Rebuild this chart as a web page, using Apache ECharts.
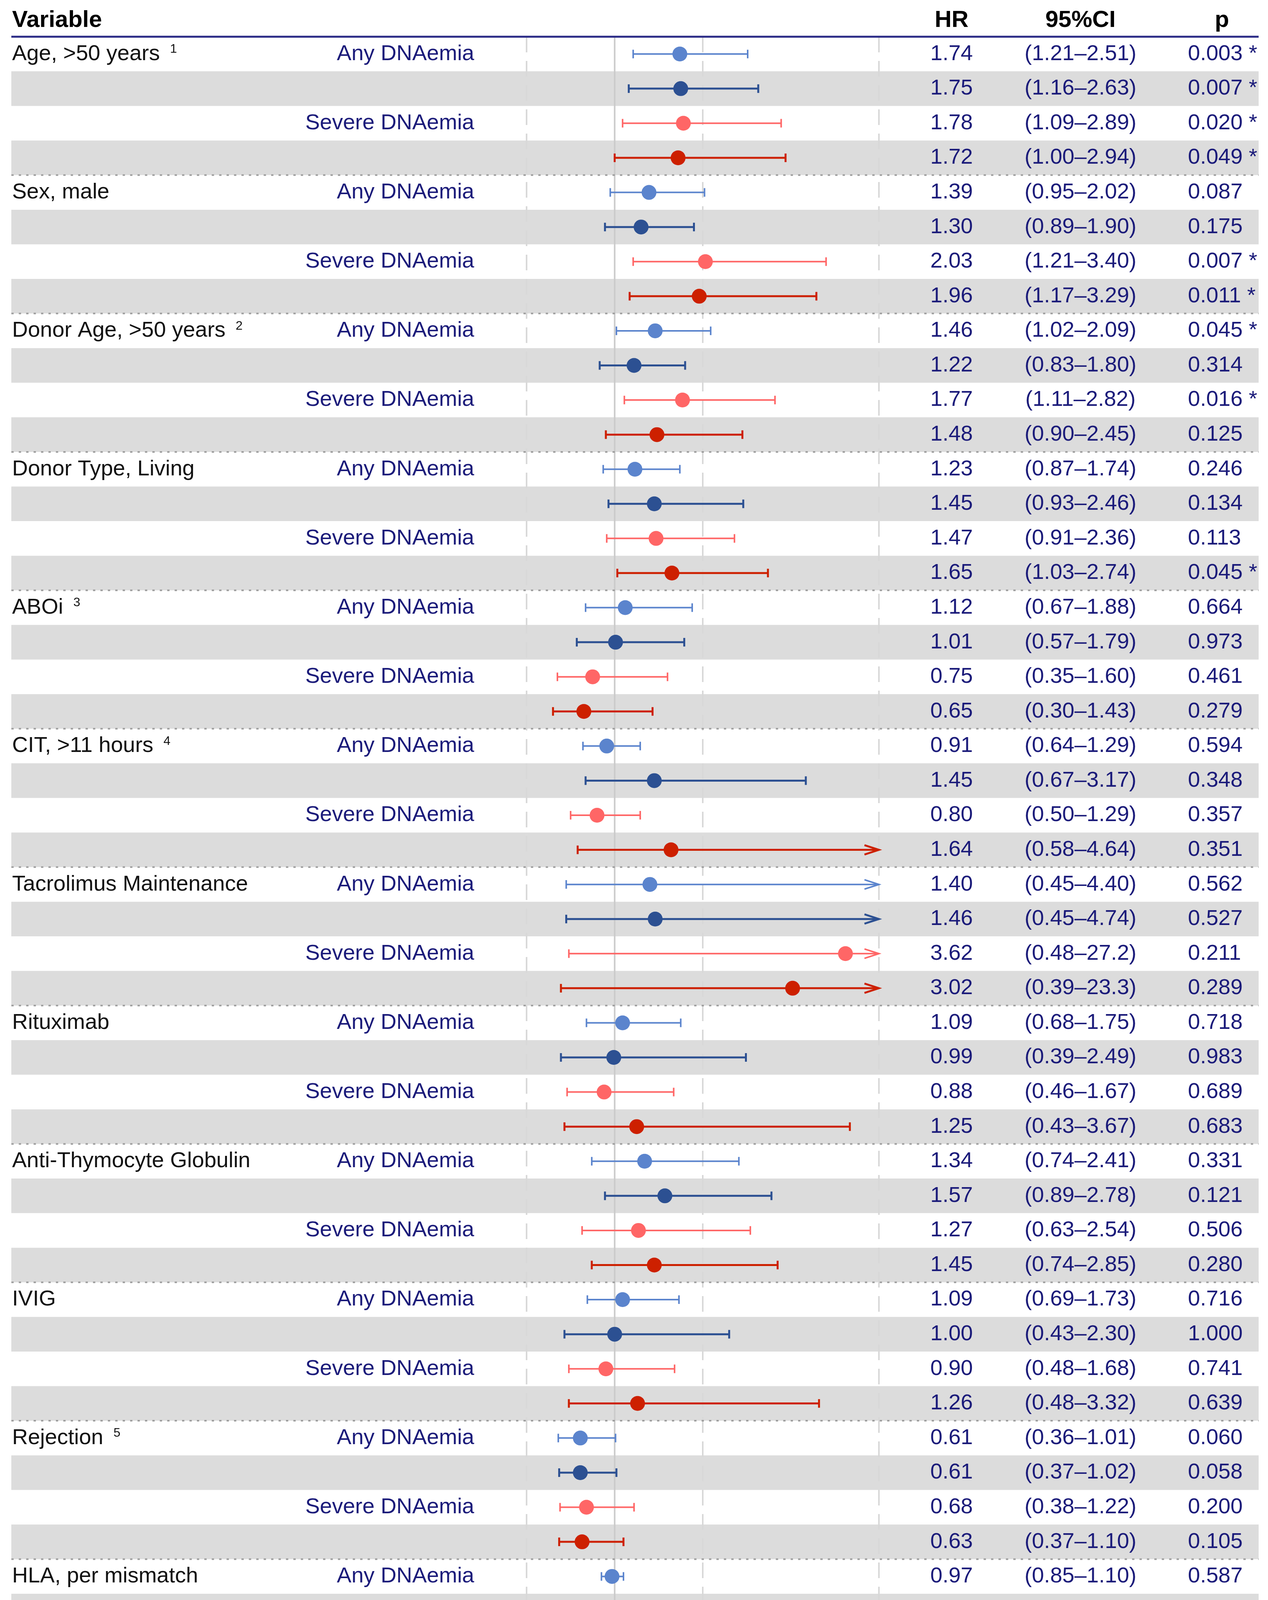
<!DOCTYPE html>
<html>
<head>
<meta charset="utf-8">
<script src="https://cdn.jsdelivr.net/npm/echarts@6/dist/echarts.min.js"></script>
<style>
html,body{margin:0;padding:0;background:#ffffff;}
#chart{width:3246px;height:4814px;}
</style>
</head>
<body>
<div id="chart"></div>
<script>
// ---------------- DATA ----------------
const variables = [
  'Age, >50 years', 'Sex, male', 'Donor Age, >50 years', 'Donor Type, Living',
  'ABOi', 'CIT, >11 hours', 'Tacrolimus Maintenance', 'Rituximab',
  'Anti-Thymocyte Globulin', 'IVIG', 'Rejection', 'HLA, per mismatch', 'HLA mismatches > 3'
];
const footnotes = ['1', '', '2', '', '3', '4', '', '', '', '', '5', '', ''];
const modelLabels = ['Any DNAemia', '', 'Severe DNAemia', ''];
const hr = [
  1.74, 1.75, 1.78, 1.72,
  1.39, 1.30, 2.03, 1.96,
  1.46, 1.22, 1.77, 1.48,
  1.23, 1.45, 1.47, 1.65,
  1.12, 1.01, 0.75, 0.65,
  0.91, 1.45, 0.80, 1.64,
  1.40, 1.46, 3.62, 3.02,
  1.09, 0.99, 0.88, 1.25,
  1.34, 1.57, 1.27, 1.45,
  1.09, 1.00, 0.90, 1.26,
  0.61, 0.61, 0.68, 0.63,
  0.97, 0.94, 1.21, 1.18,
  1.07, 0.93, 1.86, 1.72
];
const lower = [
  1.21, 1.16, 1.09, 1.00,
  0.95, 0.89, 1.21, 1.17,
  1.02, 0.83, 1.11, 0.90,
  0.87, 0.93, 0.91, 1.03,
  0.67, 0.57, 0.35, 0.30,
  0.64, 0.67, 0.50, 0.58,
  0.45, 0.45, 0.48, 0.39,
  0.68, 0.39, 0.46, 0.43,
  0.74, 0.89, 0.63, 0.74,
  0.69, 0.43, 0.48, 0.48,
  0.36, 0.37, 0.38, 0.37,
  0.85, 0.83, 1.03, 1.00,
  0.72, 0.61, 1.13, 1.01
];
const upper = [
  2.51, 2.63, 2.89, 2.94,
  2.02, 1.90, 3.40, 3.29,
  2.09, 1.80, 2.82, 2.45,
  1.74, 2.46, 2.36, 2.74,
  1.88, 1.79, 1.60, 1.43,
  1.29, 3.17, 1.29, 4.64,
  4.40, 4.74, 27.2, 23.3,
  1.75, 2.49, 1.67, 3.67,
  2.41, 2.78, 2.54, 2.85,
  1.73, 2.30, 1.68, 3.32,
  1.01, 1.02, 1.22, 1.10,
  1.10, 1.07, 1.42, 1.39,
  1.60, 1.43, 3.08, 2.92
];
const pValues = [
  0.003, 0.007, 0.020, 0.049,
  0.087, 0.175, 0.007, 0.011,
  0.045, 0.314, 0.016, 0.125,
  0.246, 0.134, 0.113, 0.045,
  0.664, 0.973, 0.461, 0.279,
  0.594, 0.348, 0.357, 0.351,
  0.562, 0.527, 0.211, 0.289,
  0.718, 0.983, 0.689, 0.683,
  0.331, 0.121, 0.506, 0.280,
  0.716, 1.000, 0.741, 0.639,
  0.060, 0.058, 0.200, 0.105,
  0.587, 0.344, 0.024, 0.045,
  0.724, 0.755, 0.015, 0.046
];
const xTicks = [0, 1, 2, 4];
const headers = ['Variable', 'HR', '95%CI', 'p'];

// ---------------- STYLE / LAYOUT ----------------
const FONT = '"Liberation Sans", Arial, Helvetica, sans-serif';
const NAVY = '#1B1B7A';
const RULE = '#2B2B86';
const BAND = '#DCDCDC';
const modelColors = ['#5B84CD', '#2C5092', '#FF6666', '#CD2000'];
const W = 3246, H = 4814;
const TABLE_L = 29, TABLE_R = 3222, TOP = 94, BOT = 4700;
const PLOT_L = 1348, PLOT_R = 2250;
const COL = { varX: 31, modelX: 1214, hrX: 2436, ciX: 2766, pX: 3041, pHeadX: 3128 };
const TXT = 56, HEAD = 60;
const XMAX = 4;

const measureCtx = document.createElement('canvas').getContext('2d');
function textWidth(t, size, weight) {
  measureCtx.font = (weight || 'normal') + ' ' + size + 'px ' + FONT;
  return measureCtx.measureText(t).width;
}
function fmt(v) { return v >= 10 ? v.toFixed(1) : v.toFixed(2); }
function txt(text, x, y, align, fill, size, weight) {
  return {
    type: 'text',
    style: {
      text: text, x: x, y: y, fill: fill,
      font: (weight || 'normal') + ' ' + size + 'px ' + FONT,
      textAlign: align, align: align,
      textVerticalAlign: 'middle', verticalAlign: 'middle'
    }
  };
}

const rowIdx = hr.map((_, i) => i);
const chart = echarts.init(document.getElementById('chart'), null, { renderer: 'canvas' });

const option = {
  animation: false,
  backgroundColor: '#ffffff',
  grid: { left: PLOT_L, right: W - PLOT_R, top: TOP, bottom: H - BOT, containLabel: false },
  xAxis: {
    type: 'value', min: 0, max: XMAX, interval: 1, z: 10,
    splitLine: { show: false },
    axisLine: { show: true, onZero: false, lineStyle: { color: '#000', width: 4 } },
    axisTick: { show: true, customValues: xTicks, length: 18, lineStyle: { color: '#000', width: 4 } },
    axisLabel: { customValues: xTicks, fontSize: 60, color: '#000', margin: 22, fontFamily: FONT }
  },
  yAxis: {
    type: 'category', inverse: true, data: rowIdx.map(String),
    axisLine: { show: false }, axisTick: { show: false }, axisLabel: { show: false }, splitLine: { show: false }
  },
  graphic: [
    { type: 'line', z: 50, shape: { x1: TABLE_L, y1: TOP, x2: TABLE_R, y2: TOP }, style: { stroke: RULE, lineWidth: 5 } },
    { type: 'line', z: 5, shape: { x1: TABLE_L, y1: BOT, x2: TABLE_R, y2: BOT }, style: { stroke: RULE, lineWidth: 5 } },
    txt(headers[0], COL.varX, 52, 'left', '#000', HEAD, 'bold'),
    txt(headers[1], COL.hrX, 52, 'center', '#000', HEAD, 'bold'),
    txt(headers[2], COL.ciX, 52, 'center', '#000', HEAD, 'bold'),
    txt(headers[3], COL.pHeadX, 52, 'center', '#000', HEAD, 'bold')
  ],
  series: [
    {
      type: 'custom', name: 'bands', z: 1, clip: false, silent: true,
      data: rowIdx.filter(i => i % 4 === 1 || i % 4 === 3).map(i => [0, i]),
      encode: { x: 0, y: 1 },
      renderItem: function (params, api) {
        const c = api.coord([0, api.value(1)]);
        const h = api.size([0, 1])[1];
        return { type: 'rect', shape: { x: TABLE_L, y: c[1] - h / 2, width: TABLE_R - TABLE_L, height: h }, style: { fill: BAND } };
      }
    },
    {
      type: 'custom', name: 'grid', z: 2, clip: false, silent: true,
      data: xTicks.map(v => [v, 0]),
      encode: { x: 0, y: 1 },
      renderItem: function (params, api) {
        const v = api.value(0);
        const x = api.coord([v, 0])[0];
        const cs = params.coordSys;
        const ref = v === 1;
        return {
          type: 'line', shape: { x1: x, y1: cs.y, x2: x, y2: cs.y + cs.height },
          style: { stroke: ref ? '#CBCBCB' : '#D8D8D8', lineWidth: 4, lineDash: ref ? null : [40, 22] }
        };
      }
    },
    {
      type: 'custom', name: 'separators', z: 3, clip: false, silent: true,
      data: variables.slice(1).map((_, g) => [0, (g + 1) * 4]),
      encode: { x: 0, y: 1 },
      renderItem: function (params, api) {
        const c = api.coord([0, api.value(1)]);
        const h = api.size([0, 1])[1];
        const y = c[1] - h / 2;
        return { type: 'line', shape: { x1: TABLE_L, y1: y, x2: TABLE_R, y2: y }, style: { stroke: '#9E9E9E', lineWidth: 4, lineDash: [6, 13] } };
      }
    },
    {
      type: 'custom', name: 'CI', z: 4, clip: false, silent: true,
      data: rowIdx.map(i => [lower[i], upper[i], i, i % 4]),
      encode: { x: [0, 1], y: 2 },
      renderItem: function (params, api) {
        const lo = api.value(0), hi = api.value(1), i = api.value(2), m = api.value(3);
        const color = modelColors[m];
        const lw = (m % 2 === 1) ? 5 : 4;
        const y = api.coord([lo, i])[1];
        const xl = api.coord([lo, i])[0];
        const xr = api.coord([Math.min(hi, XMAX), i])[0];
        const st = { stroke: color, lineWidth: lw, fill: null };
        const ch = [
          { type: 'line', shape: { x1: xl, y1: y, x2: xr, y2: y }, style: st },
          { type: 'line', shape: { x1: xl, y1: y - 11, x2: xl, y2: y + 11 }, style: st }
        ];
        if (hi > XMAX) {
          ch.push({ type: 'polyline', shape: { points: [[xr - 37, y - 12], [xr, y], [xr - 37, y + 12]] }, style: st });
        } else {
          ch.push({ type: 'line', shape: { x1: xr, y1: y - 11, x2: xr, y2: y + 11 }, style: st });
        }
        return { type: 'group', children: ch };
      }
    },
    {
      type: 'scatter', name: 'HR', z: 5, clip: false, silent: true,
      symbol: 'circle', symbolSize: 38,
      data: rowIdx.map(i => ({ value: [hr[i], i], itemStyle: { color: modelColors[i % 4], opacity: 1 } }))
    },
    {
      type: 'custom', name: 'table', z: 6, clip: false, silent: true,
      data: rowIdx.map(i => [0, i]),
      encode: { x: 0, y: 1 },
      renderItem: function (params, api) {
        const i = api.value(1);
        const y = api.coord([0, i])[1];
        const g = Math.floor(i / 4), m = i % 4;
        const ch = [];
        if (m === 0) {
          ch.push(txt(variables[g], COL.varX, y, 'left', '#111111', TXT));
          if (footnotes[g]) {
            const w = textWidth(variables[g], TXT);
            ch.push(txt(footnotes[g], COL.varX + w + 26, y - 12, 'left', '#111111', 32));
          }
        }
        if (modelLabels[m]) ch.push(txt(modelLabels[m], COL.modelX, y, 'right', NAVY, TXT));
        ch.push(txt(fmt(hr[i]), COL.hrX, y, 'center', NAVY, TXT));
        ch.push(txt('(' + fmt(lower[i]) + '\u2013' + fmt(upper[i]) + ')', COL.ciX, y, 'center', NAVY, TXT));
        ch.push(txt(pValues[i].toFixed(3) + (pValues[i] < 0.05 ? ' *' : ''), COL.pX, y, 'left', NAVY, TXT));
        return { type: 'group', children: ch };
      }
    }
  ]
};
chart.setOption(option);
</script>
</body>
</html>
